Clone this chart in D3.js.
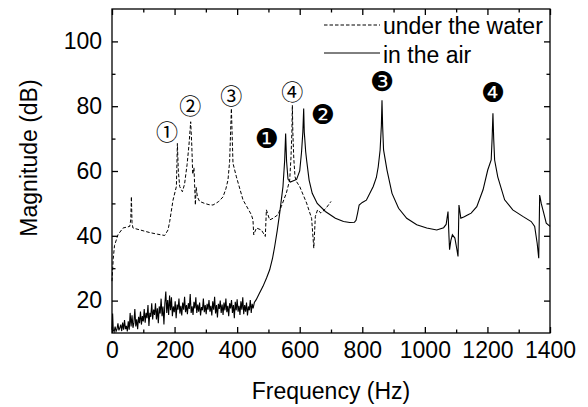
<!DOCTYPE html>
<html>
<head>
<meta charset="utf-8">
<script src="https://cdn.jsdelivr.net/npm/d3@7"></script>
<style>
  body { margin: 0; background: #fff; }
  svg text { font-family: "Liberation Sans", Arial, sans-serif; fill: #000; }
  .axis path, .axis line { stroke: #000; stroke-width: 1.3; }
  .mark-open { font-family: "Noto Sans CJK JP", "DejaVu Sans", sans-serif; }
  .mark-solid { font-family: "DejaVu Sans", "Noto Sans CJK JP", sans-serif; }
</style>
</head>
<body>
<svg id="chart"></svg>
<script>
// under the water: [frequency Hz, magnitude dB]
const waterSeries = [
  [0, 26], [4, 33], [8, 37], [19, 40.3], [35, 42.4], [56.6, 42.9], [60, 45], [62, 52.1], [64, 44],
  [67, 42.4], [90, 41.8], [120.5, 41], [145, 40.5], [168.4, 40.1], [179, 41.8], [184.4, 44.4],
  [195, 51], [205.8, 55.2], [209, 68.5], [212, 60], [216.4, 55.2], [225, 53.6], [232, 56],
  [240, 62], [246, 68], [251.5, 75.2], [255, 68], [258, 59], [262, 61], [264, 56], [266.5, 49.5],
  [269, 55], [273, 52], [280, 50.6], [296, 50], [310, 49.6], [322.8, 49.5], [340, 50.5],
  [354.8, 52], [364, 54.5], [370.7, 57.2], [376, 63], [381.6, 79.3], [386.7, 62.4],
  [397.6, 58.2], [418.7, 51.1], [445.5, 46.5], [450.6, 44.9], [453, 40.3], [461.5, 42.4],
  [477.5, 41.8], [490, 39.8], [493.5, 48], [504, 44.9], [514.5, 45.4], [530.5, 46.5],
  [541, 49], [557, 53.1], [568, 57.2], [572, 64], [575, 72], [576.5, 80.3], [578, 72],
  [581, 64], [585, 58.2], [590, 56.7], [600, 55.2], [622, 50.1], [638, 45.4], [645, 36.2],
  [650, 46], [657, 48], [668, 47], [684, 48.5], [700, 50.6]
];

// in the air: [frequency Hz, magnitude dB]
const airSeries = [
  [0, 11], [2, 16], [4, 11], [7, 10.4], [10, 12], [13, 10.5], [16, 11.2], [19, 13], [22, 10.8],
  [25, 11.6], [28, 12.6], [31, 10.6], [34, 13.2], [37, 11], [40, 14], [43, 11.2], [46, 12.2],
  [49, 10.5], [52, 13.6], [55, 11], [58, 16.2], [61, 12], [64, 15.5], [67, 11.6], [70, 13.2],
  [73, 17.4], [76, 12], [79, 14.2], [82, 11.2], [85, 15], [88, 13], [91, 16.6], [94, 12.6],
  [97, 15.2], [100, 13.6], [103, 17.4], [106, 13.2], [109, 16.2], [112, 14.6], [115, 18.6],
  [118, 12.2], [121, 16.2], [124, 15], [127, 19.2], [130, 14.2], [133, 17.2], [136, 15.6],
  [139, 19.2], [142, 14.2], [145, 17.6], [148, 13], [151, 18.2], [154, 16], [157, 20.6],
  [160, 15.2], [163, 18.2], [166, 12.6], [169, 19.2], [172, 22.8], [175, 16.2], [178, 20.2],
  [181, 15.6], [184, 21.6], [187, 17], [190, 21], [193, 15.2], [196, 18.2], [199, 16.4],
  [202, 19.8], [205, 14.6], [208, 18.8], [211, 17.2], [214, 20.6], [217, 16], [220, 18.4],
  [223, 15.4], [226, 19.4], [229, 17.2], [232, 21.2], [235, 16.4], [238, 18.6], [241, 15.8],
  [244, 19.2], [247, 17.4], [250, 22], [253, 16.2], [256, 18.2], [259, 15.6], [262, 19.6],
  [265, 17.6], [268, 21], [271, 16.2], [274, 18.8], [277, 16.6], [280, 19.4], [283, 15.4],
  [286, 18], [289, 17], [292, 20.6], [295, 16.4], [298, 18.6], [301, 15.8], [304, 19],
  [307, 17.2], [310, 20.2], [313, 16.6], [316, 18.4], [319, 15.4], [322, 19.8], [325, 17.2],
  [328, 21.2], [331, 16], [334, 18.6], [337, 14.8], [340, 19], [343, 17.4], [346, 20],
  [349, 16.2], [352, 18.8], [355, 15.6], [358, 19.4], [361, 17], [364, 20.6], [367, 16.4],
  [370, 18.4], [373, 15.2], [376, 19.2], [379, 17.6], [382, 20.2], [385, 16.2], [388, 18.6],
  [391, 14.6], [394, 19.6], [397, 17], [400, 20.4], [403, 16.6], [406, 18.4], [409, 15.6],
  [412, 19.8], [415, 17.2], [418, 21], [421, 15.8], [424, 18.6], [427, 16.6], [430, 19.4],
  [433, 15.4], [436, 18.2], [439, 17], [442, 20.2], [445, 16.2], [448, 19], [451, 17.6],
  [455, 19.4], [461, 20.3], [470, 22], [482.6, 24.4], [494, 27], [504, 29.5], [513, 33],
  [520, 36.7], [528, 41.5], [536, 47], [546.5, 55.2], [552, 63.4], [555, 71.6], [558, 63],
  [562.5, 57.5], [570, 56.6], [580, 57], [590, 57.4], [600, 60], [606, 66], [610, 72],
  [612.7, 79.3], [614.5, 72], [616.5, 69.5], [619, 66], [622, 63.4], [630, 57.2], [640, 53.1],
  [656, 50], [682, 47.5], [714, 45.4], [740, 44.4], [760, 44.1], [775, 44.2], [780, 44.8],
  [785, 47], [790, 49.5], [800, 50.3], [813, 51], [835, 55.2], [845, 58], [851, 61.3],
  [857, 66.5], [861, 74], [863, 81.8], [865, 74], [868, 66.5], [879, 60.3], [895, 53.1],
  [916, 48.5], [942, 45.4], [974, 43.4], [1006, 42.4], [1038, 41.8], [1060, 42.5],
  [1068, 43.5], [1074, 47.5], [1077, 40], [1079, 35.7], [1083, 38.5], [1088, 40.3],
  [1096, 39.3], [1102, 36], [1106, 33.6], [1109, 49.5], [1115, 45.4], [1126, 45.9],
  [1138, 46.5], [1148, 47], [1166, 49], [1186, 54.2], [1201, 60.3], [1212, 63.4],
  [1215, 70], [1217.6, 77.8], [1220, 70], [1223, 63.4], [1233, 58.2], [1255, 51.1],
  [1281, 48], [1313, 46], [1340, 44.4], [1351, 42.9], [1359, 37.7], [1364, 33.1],
  [1367, 52.6], [1372, 50], [1380, 47], [1388, 43.9], [1400, 42.9]
];

// mode labels: [text, frequency Hz, magnitude dB]
const waterModes = [["\u2460", 176, 72.6], ["\u2461", 250, 80.6], ["\u2462", 381, 83.9], ["\u2463", 576, 85]];
const airModes = [["\u2776", 495, 70.1], ["\u2777", 674, 77.3], ["\u2778", 863, 87.7], ["\u2779", 1218, 84.3]];

const xMajor = [0, 200, 400, 600, 800, 1000, 1200, 1400];
const xMinor = [100, 300, 500, 700, 900, 1100, 1300];
const yMajor = [20, 40, 60, 80, 100];
const yMinor = [30, 50, 70, 90];

const width = 588, height = 407;
const margin = {top: 9, right: 38, bottom: 74, left: 112};
const innerW = width - margin.left - margin.right;
const innerH = height - margin.top - margin.bottom;

const svg = d3.select('#chart').attr('width', width).attr('height', height);
const g = svg.append('g').attr('transform', `translate(${margin.left},${margin.top})`);

const x = d3.scaleLinear().domain([0, 1400]).range([0, innerW]);
const y = d3.scaleLinear().domain([10, 110]).range([innerH, 0]);

// frame
g.append('rect')
    .attr('width', innerW).attr('height', innerH)
    .attr('fill', 'none').attr('stroke', '#000').attr('stroke-width', 1.3);

// curves
const line = d3.line().x(d => x(d[0])).y(d => y(d[1]));
g.append('path').datum(airSeries)
    .attr('d', line).attr('fill', 'none').attr('stroke', '#000').attr('stroke-width', 1.1);
g.append('path').datum(waterSeries)
    .attr('d', line).attr('fill', 'none').attr('stroke', '#000').attr('stroke-width', 1)
    .attr('stroke-dasharray', '3.5,2');

// axes, ticks pointing inward
function addAxis(axis, transform, showLabels) {
  const a = g.append('g').attr('class', 'axis').attr('transform', transform).call(axis);
  a.select('.domain').remove();
  if (!showLabels) a.selectAll('text').remove();
  return a;
}
const fmt = d3.format('d');
const xAxisB = addAxis(d3.axisBottom(x).tickValues(xMajor).tickFormat(fmt).tickSize(-6).tickPadding(9), `translate(0,${innerH})`, true);
addAxis(d3.axisBottom(x).tickValues(xMinor).tickSize(-3.5), `translate(0,${innerH})`, false);
addAxis(d3.axisTop(x).tickValues(xMajor).tickSize(-6), 'translate(0,0)', false);
addAxis(d3.axisTop(x).tickValues(xMinor).tickSize(-3.5), 'translate(0,0)', false);
const yAxisL = addAxis(d3.axisLeft(y).tickValues(yMajor).tickFormat(fmt).tickSize(-6).tickPadding(10), 'translate(0,0)', true);
addAxis(d3.axisLeft(y).tickValues(yMinor).tickSize(-3.5), 'translate(0,0)', false);
addAxis(d3.axisRight(y).tickValues(yMajor).tickSize(-6), `translate(${innerW},0)`, false);
addAxis(d3.axisRight(y).tickValues(yMinor).tickSize(-3.5), `translate(${innerW},0)`, false);
xAxisB.selectAll('text').style('font-size', '23px');
yAxisL.selectAll('text').style('font-size', '23px');

// axis titles
svg.append('text')
    .attr('x', margin.left + innerW / 2).attr('y', 399)
    .attr('text-anchor', 'middle').style('font-size', '23px')
    .text('Frequency (Hz)');
svg.append('text')
    .attr('transform', `translate(37,${margin.top + innerH / 2 - 13}) rotate(-90)`)
    .attr('text-anchor', 'middle').style('font-size', '23px')
    .text('Magnitude (dB)');

// legend
const legend = g.append('g');
legend.append('line').attr('x1', 212).attr('x2', 268).attr('y1', 16).attr('y2', 16)
    .attr('stroke', '#000').attr('stroke-dasharray', '3.5,2');
legend.append('text').attr('x', 271).attr('y', 25).style('font-size', '23px').text('under the water');
legend.append('line').attr('x1', 212).attr('x2', 268).attr('y1', 44).attr('y2', 44)
    .attr('stroke', '#000');
legend.append('text').attr('x', 271).attr('y', 54).style('font-size', '23px').text('in the air');

// mode markers
g.selectAll('.mark-open')
    .data(waterModes)
  .join('text')
    .attr('class', 'mark-open')
    .attr('x', d => x(d[1])).attr('y', d => y(d[2]))
    .attr('text-anchor', 'middle').attr('dominant-baseline', 'central')
    .style('font-size', '22px')
    .text(d => d[0]);
g.selectAll('.mark-solid')
    .data(airModes)
  .join('text')
    .attr('class', 'mark-solid')
    .attr('x', d => x(d[1])).attr('y', d => y(d[2]))
    .attr('text-anchor', 'middle').attr('dominant-baseline', 'central')
    .style('font-size', '27px')
    .text(d => d[0]);
</script>
</body>
</html>
